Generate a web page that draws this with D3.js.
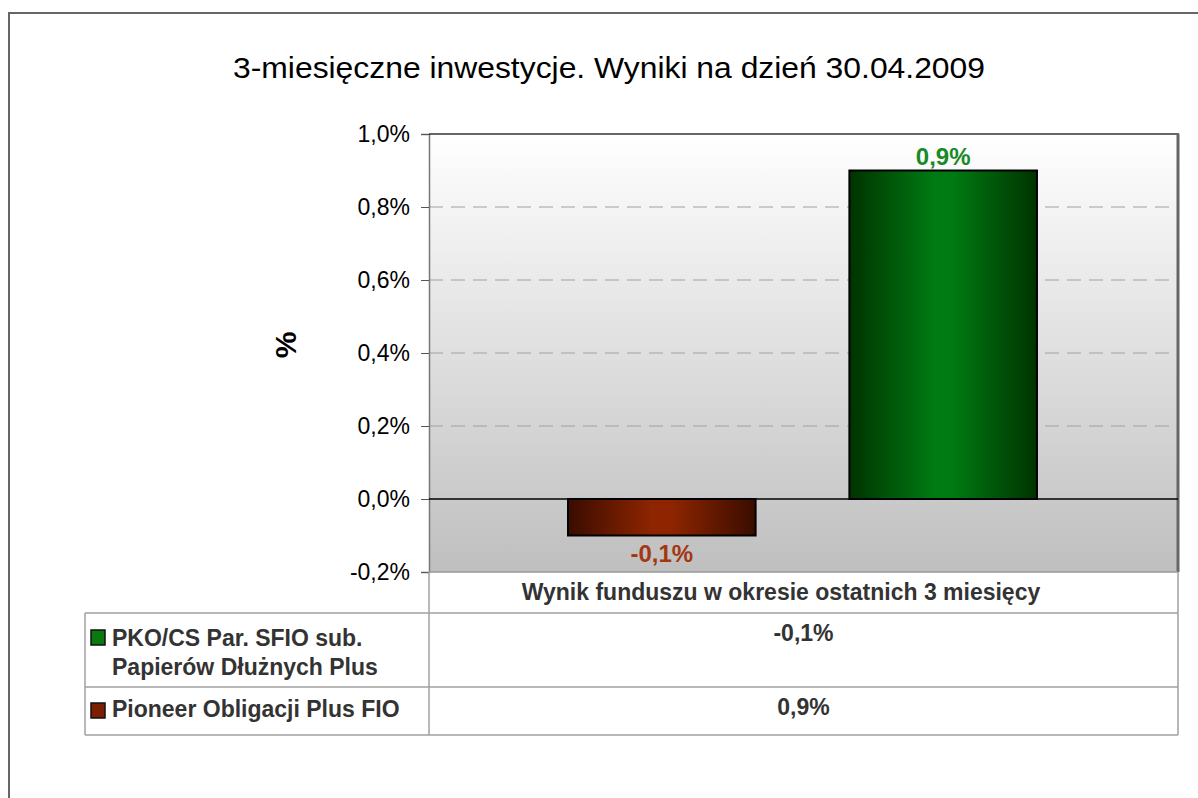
<!DOCTYPE html>
<html>
<head>
<meta charset="utf-8">
<script src="https://cdn.jsdelivr.net/npm/d3@7"></script>
<style>
  html, body { margin: 0; padding: 0; background: #fff; }
  svg { display: block; font-family: "Liberation Sans", Arial, sans-serif; }
</style>
</head>
<body>
<svg class="chart" width="1198" height="798"></svg>
<script>
const title = "3-miesięczne inwestycje. Wyniki na dzień 30.04.2009",
      category = "Wynik funduszu w okresie ostatnich 3 miesięcy",
      seriesNames = ["PKO/CS Par. SFIO sub. Papierów Dłużnych Plus", "Pioneer Obligacji Plus FIO"],
      legendLines = [["PKO/CS Par. SFIO sub.", "Papierów Dłużnych Plus"], ["Pioneer Obligacji Plus FIO"]],
      values = [-0.1, 0.9],
      yTicks = [-0.2, 0, 0.2, 0.4, 0.6, 0.8, 1.0]

// bar look per drawn series (left brown, right green), legend swatches as in the source sheet
const barColors = [{ edge: "#3a0c00", mid: "#8e2500", label: "#a33712" },
                   { edge: "#003300", mid: "#007a12", label: "#188a26" }],
      swatchColors = ["#0a7a10", "#7a2000"]

const plot = { left: 429, right: 1178, top: 134, bottom: 572 }

const svg = d3.select(".chart")
const locale = d3.formatLocale({ decimal: ",", thousands: " ", grouping: [3], currency: ["", " zł"], minus: "-" })
const fmt = d => locale.format(".1f")(d) + "%"

// outer frame
svg.append("path")
  .attr("d", "M9,800 V13 H1200")
  .attr("fill", "none")
  .attr("stroke", "#666")
  .attr("stroke-width", 2)

svg.append("text")
  .attr("x", 609)
  .attr("y", 78)
  .attr("text-anchor", "middle")
  .attr("textLength", 752)
  .attr("lengthAdjust", "spacingAndGlyphs")
  .style("font-size", "30px")
  .attr("fill", "#000")
  .text(title)

// plot background gradient
const defs = svg.append("defs")
const bg = defs.append("linearGradient").attr("id", "bg").attr("x1", 0).attr("y1", 0).attr("x2", 0).attr("y2", 1)
bg.append("stop").attr("offset", "0%").attr("stop-color", "#ffffff")
bg.append("stop").attr("offset", "100%").attr("stop-color", "#bfbfbf")

barColors.forEach(function(c, i) {
  const g = defs.append("linearGradient").attr("id", "bar" + i)
  g.append("stop").attr("offset", "0%").attr("stop-color", c.edge)
  g.append("stop").attr("offset", "45%").attr("stop-color", c.mid)
  g.append("stop").attr("offset", "55%").attr("stop-color", c.mid)
  g.append("stop").attr("offset", "100%").attr("stop-color", c.edge)
})

const y = d3.scaleLinear().domain([-0.2, 1.0]).range([plot.bottom, plot.top])
const x0 = d3.scaleBand().domain([category]).range([plot.left, plot.right])
const x1 = d3.scaleBand().domain(seriesNames)
  .range([x0(category) + x0.bandwidth() * 0.1856, x0(category) + x0.bandwidth() * 0.8117])
  .paddingInner(1 / 3)

svg.append("rect")
  .attr("x", plot.left).attr("y", plot.top)
  .attr("width", plot.right - plot.left).attr("height", plot.bottom - plot.top)
  .attr("fill", "url(#bg)")

// gridlines
svg.append("g")
  .selectAll("line")
  .data(yTicks.filter(d => d > 0 && d < 1))
  .join("line")
  .attr("x1", plot.left).attr("x2", plot.right)
  .attr("y1", d => y(d)).attr("y2", d => y(d))
  .attr("stroke", "#a0a0a0")
  .attr("stroke-dasharray", "14,8")

// y axis
const yAxis = svg.append("g")
  .attr("transform", "translate(" + plot.left + ",0)")
  .call(d3.axisLeft(y).tickValues(yTicks).tickFormat(fmt).tickSize(8).tickPadding(11))
yAxis.select(".domain").attr("stroke", "#777").attr("stroke-width", 1.5)
yAxis.selectAll(".tick line").attr("stroke", "#555")
yAxis.selectAll(".tick text").style("font-size", "23px").attr("fill", "#000")

svg.append("text")
  .attr("transform", "translate(296,345) rotate(-90)")
  .attr("text-anchor", "middle")
  .style("font-size", "30px")
  .style("font-weight", "bold")
  .text("%")

// plot borders
svg.append("line")
  .attr("x1", plot.left).attr("x2", plot.right + 1)
  .attr("y1", plot.top).attr("y2", plot.top)
  .attr("stroke", "#333").attr("stroke-width", 1.5)
svg.append("line")
  .attr("x1", plot.right).attr("x2", plot.right)
  .attr("y1", plot.top).attr("y2", plot.bottom)
  .attr("stroke", "#666").attr("stroke-width", 3)
svg.append("line")
  .attr("x1", plot.left).attr("x2", plot.right)
  .attr("y1", plot.bottom).attr("y2", plot.bottom)
  .attr("stroke", "#999").attr("stroke-width", 1.5)

// zero line
svg.append("line")
  .attr("x1", plot.left).attr("x2", plot.right)
  .attr("y1", y(0)).attr("y2", y(0))
  .attr("stroke", "#000").attr("stroke-width", 1.5)

// bars
svg.append("g")
  .selectAll("rect")
  .data(values)
  .join("rect")
  .attr("x", (d, i) => x1(seriesNames[i]))
  .attr("y", d => y(Math.max(0, d)))
  .attr("width", x1.bandwidth())
  .attr("height", d => Math.abs(y(d) - y(0)))
  .attr("fill", (d, i) => "url(#bar" + i + ")")
  .attr("stroke", "#000")
  .attr("stroke-width", 2)

svg.append("g")
  .selectAll("text")
  .data(values)
  .join("text")
  .attr("x", (d, i) => x1(seriesNames[i]) + x1.bandwidth() / 2)
  .attr("y", d => d >= 0 ? y(d) - 6 : y(d) + 26)
  .attr("text-anchor", "middle")
  .style("font-size", "24px")
  .style("font-weight", "bold")
  .attr("fill", (d, i) => barColors[i].label)
  .text(fmt)

// data table
const table = { left: 85, mid: plot.left, right: plot.right, rows: [plot.bottom, 613, 687, 735] }
const tg = svg.append("g").attr("stroke", "#a0a0a0").attr("stroke-width", 1.5)
table.rows.slice(1).forEach(function(r) {
  tg.append("line").attr("x1", table.left).attr("x2", table.right).attr("y1", r).attr("y2", r)
})
tg.append("line").attr("x1", table.left).attr("x2", table.left).attr("y1", table.rows[1]).attr("y2", table.rows[3])
tg.append("line").attr("x1", table.mid).attr("x2", table.mid).attr("y1", table.rows[0]).attr("y2", table.rows[3])
tg.append("line").attr("x1", table.right).attr("x2", table.right).attr("y1", table.rows[0]).attr("y2", table.rows[3])

svg.append("text")
  .attr("x", 781)
  .attr("y", 600)
  .attr("text-anchor", "middle")
  .style("font-size", "23px")
  .style("font-weight", "bold")
  .attr("fill", "#333")
  .text(category)

const rowTop = [613, 687]
seriesNames.forEach(function(name, i) {
  svg.append("rect")
    .attr("x", 91).attr("y", rowTop[i] + (i ? 16 : 17))
    .attr("width", 14).attr("height", 15)
    .attr("fill", swatchColors[i])
    .attr("stroke", "#111").attr("stroke-width", 1.5)
  legendLines[i].forEach(function(line, j) {
    svg.append("text")
      .attr("x", 112)
      .attr("y", rowTop[i] + (i ? 30 : 33) + j * 29)
      .style("font-size", "23px")
      .style("font-weight", "bold")
      .attr("fill", "#333")
      .text(line)
  })
  svg.append("text")
    .attr("x", (table.mid + table.right) / 2)
    .attr("y", rowTop[i] + 28)
    .attr("text-anchor", "middle")
    .style("font-size", "23px")
    .style("font-weight", "bold")
    .attr("fill", "#333")
    .text(fmt(values[i]))
})
</script>
</body>
</html>
